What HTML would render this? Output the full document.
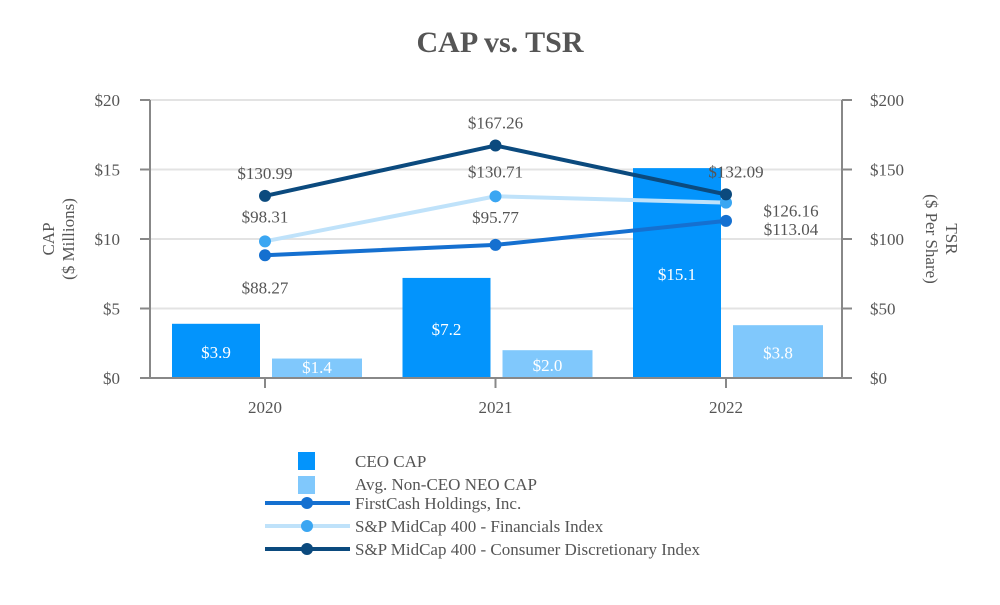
<!DOCTYPE html>
<html><head><meta charset="utf-8"><style>
body{margin:0;background:#fff;}
svg text{font-family:"Liberation Serif",serif;}
</style></head><body>
<svg id="chart" width="1000" height="600" viewBox="0 0 1000 600">
<text x="500" y="52" text-anchor="middle" font-size="30" font-weight="bold" fill="#555">CAP vs. TSR</text>
<g id="grid"></g><g id="bars"></g><g id="lines"></g><g id="axes"></g><g id="legend"></g>
</svg>
<script>
const categories=["2020","2021","2022"];
const ceoCap=[3.9,7.2,15.1];
const neoCap=[1.4,2.0,3.8];
const firstCash=[88.27,95.77,113.04];
const financials=[98.31,130.71,126.16];
const consumer=[130.99,167.26,132.09];
const capTicks=[0,5,10,15,20];
const tsrTicks=[0,50,100,150,200];
const NS="http://www.w3.org/2000/svg";
const L=150,R=842,T=100,B=378;
const yL=v=>B-(v/20)*(B-T);
const yR=v=>B-(v/200)*(B-T);
const xC=i=>265+i*230.5;
function mk(tag,attrs,parent,text){const e=document.createElementNS(NS,tag);for(const k in attrs)e.setAttribute(k,attrs[k]);if(text!==undefined)e.textContent=text;document.getElementById(parent).appendChild(e);return e;}
capTicks.forEach((t,i)=>{
 const g=mk('line',{x1:L,x2:R,y1:yL(t),y2:yL(t),stroke:'#e3e3e3','stroke-width':2},'grid');
 
 const a=mk('line',{x1:L-10,x2:L,y1:yL(t),y2:yL(t),stroke:'#888','stroke-width':2},'axes');
 
 const tx=mk('text',{x:L-30,y:yL(t)+6,'text-anchor':'end','font-size':17,fill:'#555'},'axes','$'+t);
 
});
tsrTicks.forEach(t=>{
 const a=mk('line',{x1:R,x2:R+10,y1:yR(t),y2:yR(t),stroke:'#888','stroke-width':2},'axes');
 
 const tx=mk('text',{x:R+28,y:yR(t)+6,'font-size':17,fill:'#555'},'axes','$'+t);
 
});
[[L,T,L,B],[R,T,R,B],[L,B,R,B]].forEach(c=>{const a=mk('line',{x1:c[0],y1:c[1],x2:c[2],y2:c[3],stroke:'#888','stroke-width':2},'axes');});
categories.forEach((c,i)=>{
 const a=mk('line',{x1:xC(i),x2:xC(i),y1:B,y2:B+10,stroke:'#888','stroke-width':2},'axes');
 
 const tx=mk('text',{x:xC(i),y:413,'text-anchor':'middle','font-size':17,fill:'#555'},'axes',c);
 
 const b1=mk('rect',{x:xC(i)-93,y:yL(ceoCap[i]),width:88,height:B-yL(ceoCap[i]),fill:'#0394fc'},'bars');
 
 const l1=mk('text',{x:xC(i)-49,y:(yL(ceoCap[i])+B)/2+7,'text-anchor':'middle','font-size':17,fill:'#fff'},'bars','$'+ceoCap[i].toFixed(1));
 
 const b2=mk('rect',{x:xC(i)+7,y:yL(neoCap[i]),width:90,height:B-yL(neoCap[i]),fill:'#80c8fc'},'bars');
 
 const l2=mk('text',{x:xC(i)+52,y:Math.min((yL(neoCap[i])+B)/2+7,373),'text-anchor':'middle','font-size':17,fill:'#fff'},'bars','$'+neoCap[i].toFixed(1));
 
});
const series=[
 {n:'firstcash',d:firstCash,c:'#1570d0',dc:'#1570d0',off:[[0,32],[0,-28],[65,8]]},
 {n:'financials',d:financials,c:'#bfe2fa',dc:'#3aa6f2',off:[[0,-25],[0,-25],[65,8]]},
 {n:'consumer',d:consumer,c:'#0b4a7e',dc:'#0b4a7e',off:[[0,-23],[0,-23],[10,-23]]}];
series.forEach(s=>{
 const p=mk('polyline',{points:s.d.map((v,i)=>xC(i)+','+yR(v)).join(' '),fill:'none',stroke:s.c,'stroke-width':4},'lines');
 
 s.d.forEach((v,i)=>{
  const d=mk('circle',{cx:xC(i),cy:yR(v),r:6,fill:s.dc},'lines');
  
  const t=mk('text',{x:xC(i)+s.off[i][0],y:yR(v)+s.off[i][1]+6,'text-anchor':'middle','font-size':17,fill:'#555'},'lines','$'+v.toFixed(2));
  
 });
});
</script>
<svg style="position:absolute;left:0;top:0" width="1000" height="600">
<text transform="translate(60,239) rotate(-90)" text-anchor="middle" font-size="17" fill="#555"><tspan x="0" y="-6">CAP</tspan><tspan x="0" y="14">($ Millions)</tspan></text>
<text transform="translate(940,239) rotate(90)" text-anchor="middle" font-size="17" fill="#555"><tspan x="0" y="-6">TSR</tspan><tspan x="0" y="14">($ Per Share)</tspan></text>
<g font-size="17" fill="#555">
<g><rect x="298" y="452" width="17" height="18" fill="#0394fc"/><text x="355" y="467">CEO CAP</text></g>
<g><rect x="298" y="476" width="17" height="18" fill="#80c8fc"/><text x="355" y="490">Avg. Non-CEO NEO CAP</text></g>
<g><line x1="265" x2="350" y1="503" y2="503" stroke="#1570d0" stroke-width="4"/><circle cx="307" cy="503" r="6" fill="#1570d0"/><text x="355" y="509">FirstCash Holdings, Inc.</text></g>
<g><line x1="265" x2="350" y1="526" y2="526" stroke="#bfe2fa" stroke-width="4"/><circle cx="307" cy="526" r="6" fill="#3aa6f2"/><text x="355" y="532">S&amp;P MidCap 400 - Financials Index</text></g>
<g><line x1="265" x2="350" y1="549" y2="549" stroke="#0b4a7e" stroke-width="4"/><circle cx="307" cy="549" r="6" fill="#0b4a7e"/><text x="355" y="555">S&amp;P MidCap 400 - Consumer Discretionary Index</text></g>
</g>
</svg>
</body></html>
